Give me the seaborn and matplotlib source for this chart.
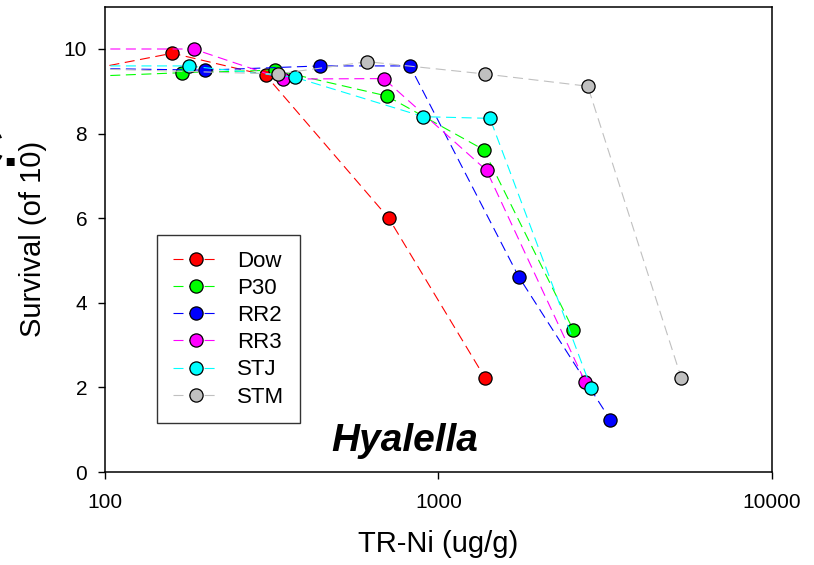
import matplotlib
matplotlib.use("Agg")
import matplotlib.pyplot as plt
import seaborn as sns
import numpy as np
from matplotlib.ticker import FixedLocator, FixedFormatter, NullLocator

# survival of Hyalella vs total recoverable Ni in sediment, per site
sites = ["Dow", "P30", "RR2", "RR3", "STJ", "STM"]
colors = ["#FF0000", "#00FF00", "#0000FF", "#FF00FF", "#00FFFF", "#C0C0C0"]

# first point of each site lies below 100 ug/g (off the left edge)
dow_ni = [75, 159, 303, 709, 1378]
dow_surv = [9.4, 9.9, 9.38, 6.0, 2.23]

p30_ni = [75, 170, 324, 699, 1366, 2538]
p30_surv = [9.33, 9.44, 9.5, 8.89, 7.62, 3.36]

rr2_ni = [75, 199, 441, 821, 1740, 3280]
rr2_surv = [9.55, 9.5, 9.6, 9.6, 4.62, 1.23]

rr3_ni = [75, 184, 341, 685, 1394, 2758]
rr3_surv = [10.0, 10.0, 9.29, 9.3, 7.13, 2.12]

stj_ni = [75, 178, 371, 901, 1427, 2869]
stj_surv = [9.6, 9.6, 9.33, 8.4, 8.36, 1.99]

stm_ni = [75, 329, 612, 1375, 2805, 5350]
stm_surv = [9.55, 9.41, 9.7, 9.41, 9.12, 2.23]

ni_data = [dow_ni, p30_ni, rr2_ni, rr3_ni, stj_ni, stm_ni]
surv_data = [dow_surv, p30_surv, rr2_surv, rr3_surv, stj_surv, stm_surv]

x_ticks = [100, 1000, 10000]
x_tick_labels = ["100", "1000", "10000"]
y_ticks = [0, 2, 4, 6, 8, 10]

sns.set_style("white")
plt.rcParams["font.family"] = ["Liberation Sans", "DejaVu Sans"]
plt.rcParams["text.color"] = "black"
plt.rcParams["axes.labelcolor"] = "black"
plt.rcParams["xtick.color"] = "black"
plt.rcParams["ytick.color"] = "black"

fig = plt.figure(figsize=(8.14, 5.65), dpi=100)
ax = fig.add_axes([105.3 / 814, 93 / 565, 666.4 / 814, 465.3 / 565])

for site, col, xs, ys in zip(sites, colors, ni_data, surv_data):
    sns.lineplot(x=xs, y=ys, ax=ax, color=col, marker="o", markersize=9.5,
                 markeredgecolor="black", markeredgewidth=0.9,
                 linewidth=0.8, linestyle=(0, (9, 5)), label=site,
                 estimator=None, sort=False)

ax.set_xscale("log")
ax.set_xlim(100, 10000)
ax.set_ylim(0, 11)
ax.xaxis.set_major_locator(FixedLocator(x_ticks))
ax.xaxis.set_major_formatter(FixedFormatter(x_tick_labels))
ax.xaxis.set_minor_locator(NullLocator())
ax.set_yticks(y_ticks)

ax.tick_params(axis="both", which="major", direction="out", length=5,
               width=1, labelsize=15, pad=8, colors="black",
               bottom=True, left=True, top=False, right=False)
ax.tick_params(axis="x", pad=10)
for sp in ax.spines.values():
    sp.set_color("black")
    sp.set_linewidth(1.1)

ax.set_xlabel("TR-Ni (ug/g)", fontsize=21, labelpad=13, color="black")
ax.set_ylabel("Survival (of 10)", fontsize=21, labelpad=12, color="black")

leg = ax.legend(loc="upper left", bbox_to_anchor=((157 - 105.3) / 666.4, (472 - 235) / 465.3),
                borderaxespad=0, fontsize=16, frameon=True, fancybox=False,
                edgecolor="black", handlelength=2.1, handletextpad=0.8,
                labelspacing=0.28, borderpad=0.7)
leg.get_frame().set_linewidth(1)
for t in leg.get_texts():
    t.set_color("black")

ax.text(0.339, 0.045, "Hyalella", transform=ax.transAxes, fontsize=28,
        fontweight="bold", fontstyle="italic", ha="left", va="baseline",
        color="black")

# cropped panel letter at the left edge, as in the source figure
fig.text(19 / 814, 1 - 167 / 565, "C.", fontsize=40, fontweight="bold",
         ha="right", va="baseline", color="black")

fig.savefig("out.png", dpi=100)
